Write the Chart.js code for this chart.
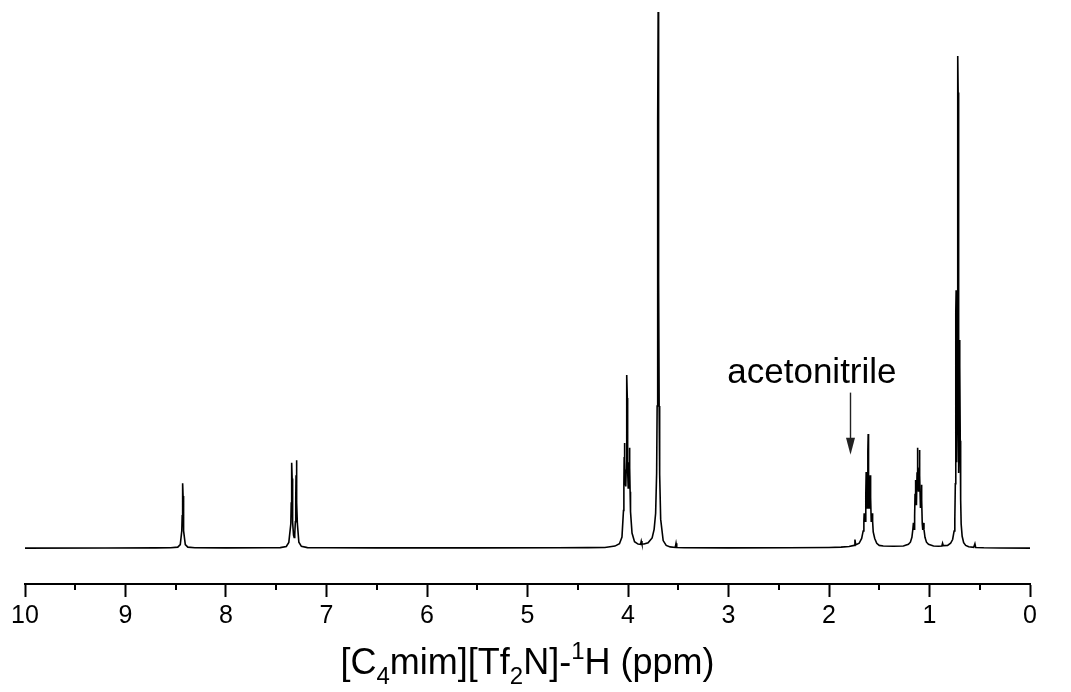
<!DOCTYPE html>
<html>
<head>
<meta charset="utf-8">
<script src="https://cdn.jsdelivr.net/npm/chart.js@4.4.1/dist/chart.umd.min.js"></script>
<style>
  html, body { margin: 0; padding: 0; background: #fff; }
</style>
</head>
<body>
<canvas id="nmr" width="1071" height="692"></canvas>
<script>
// chemical shift (ppm, as drawn on the axis), intensity (% of the tallest line)
const baseStart  = [[10, 0], [9.2, 0.02], [8.7, 0.03]];
const peakH2     = [[8.55,0.05],[8.48,0.17],[8.455,0.65],[8.44,3.2],[8.436,6.0],[8.433,9.7],[8.43,12.1],
                    [8.427,9.7],[8.424,6.0],[8.42,3.2],[8.405,0.65],[8.38,0.17],[8.31,0.05]];
const gap1       = [[8.0,0.03],[7.6,0.05]];
const peakH45    = [[7.46,0.08],[7.40,0.31],[7.375,1.05],[7.355,4.5],[7.351,8.4],[7.348,13.0],[7.345,15.9],
                    [7.342,13.0],[7.339,8.7],[7.335,4.8],[7.328,2.4],[7.322,2.0],[7.316,2.5],[7.31,4.9],
                    [7.306,9.0],[7.303,13.6],[7.30,16.4],[7.297,13.3],[7.294,8.5],[7.29,4.6],[7.275,1.08],
                    [7.25,0.32],[7.19,0.08]];
const gap2       = [[7.0,0.05],[6.5,0.03],[5.5,0.03],[4.7,0.05],[4.4,0.08]];
const peakNCH2   = [[4.23,0.12],[4.13,0.37],[4.085,0.82],[4.06,2.06],[4.045,7.0],[4.041,12.0],[4.038,17.0],
                    [4.035,19.6],[4.032,16.5],[4.027,12.0],[4.022,11.5],[4.018,14.5],[4.015,22],[4.013,28],
                    [4.01,32.3],[4.007,28],[4.005,22],[4.002,14.5],[3.998,11.2],[3.993,12.0],[3.988,16],
                    [3.985,18.7],[3.982,15],[3.979,10.5],[3.975,6.8],[3.96,2.8],[3.935,1.2],[3.90,0.75],
                    [3.875,0.7],[3.868,1.3],[3.861,0.75]];
const peakNCH3   = [[3.84,0.75],[3.80,1.0],[3.76,1.9],[3.74,3.5],[3.725,6.5],[3.715,14],[3.71,26.5],
                    [3.706,50],[3.703,80],[3.70,100],[3.697,80],[3.694,50],[3.69,26.5],[3.685,13.8],
                    [3.675,5.4],[3.65,1.4],[3.62,0.5],[3.58,0.22],[3.53,0.12],[3.522,0.9],[3.515,0.12],
                    [3.44,0.06]];
const gap3       = [[3.0,0.04],[2.4,0.06],[2.0,0.12]];
const peakCH2a   = [[1.88,0.18],[1.80,0.3],[1.75,0.5],[1.742,1.6],[1.734,0.6],[1.70,0.9],[1.675,1.8],
                    [1.66,3.2],[1.653,5.0],[1.65,6.5],[1.646,5.4],[1.64,5.0],[1.634,10],[1.63,14.2],
                    [1.626,10],[1.62,7.5],[1.615,12],[1.612,18],[1.61,21.3],[1.608,18],[1.605,12],
                    [1.60,7.5],[1.594,10],[1.59,13.6],[1.586,9.5],[1.58,5.0],[1.574,5.4],[1.57,6.5],
                    [1.566,5.0],[1.56,3.0],[1.545,1.8],[1.525,0.9],[1.50,0.5],[1.46,0.4],[1.36,0.35]];
const peakCH2b   = [[1.26,0.4],[1.21,0.7],[1.19,1.1],[1.175,2.0],[1.165,3.6],[1.16,4.7],[1.154,3.5],
                    [1.148,6],[1.144,10],[1.14,12.7],[1.136,10],[1.13,8],[1.124,14],[1.12,18.7],
                    [1.116,14],[1.11,10.5],[1.104,14],[1.10,18.3],[1.096,13.5],[1.09,7.5],[1.084,9.5],
                    [1.08,11.8],[1.076,9],[1.072,4.5],[1.067,3.4],[1.06,4.7],[1.055,3.5],[1.045,2.0],
                    [1.03,1.1],[1.01,0.7],[0.96,0.4]];
const gap4       = [[0.91,0.35],[0.877,0.4],[0.87,0.9],[0.863,0.45]];
const peakCH3    = [[0.82,0.5],[0.79,0.9],[0.77,1.6],[0.755,3.2],[0.748,5.5],[0.743,12],[0.740,30],
                    [0.737,44],[0.735,48.1],[0.733,44],[0.730,28],[0.727,16],[0.724,25],[0.721,60],
                    [0.719,85],[0.717,91.8],[0.715,85],[0.713,60],[0.710,25],[0.707,14],[0.704,22],
                    [0.701,34],[0.699,38.8],[0.697,34],[0.694,20],[0.690,9],[0.685,4.5],[0.675,2.2],
                    [0.66,1.0],[0.64,0.5],[0.61,0.25],[0.56,0.15],[0.548,0.8],[0.54,0.1],[0.46,0.05]];
const baseEnd    = [[0.3,0.02],[0,0]];

const xTitleParts = [['[C',''],['4','sub'],['mim][Tf',''],['2','sub'],['N]-',''],['1','sup'],['H (ppm)','']];
const noteText = 'acetonitrile';
const notePpm = 2.17, noteY = 30.8;        // label anchor
const arrowPpm = 1.79, arrowFrom = 29, arrowTo = 17.4;

const FONT = "'Liberation Sans', Arial, sans-serif";

const spectrum = [].concat(baseStart, peakH2, gap1, peakH45, gap2, peakNCH2, peakNCH3, gap3,
                           peakCH2a, peakCH2b, gap4, peakCH3, baseEnd)
                   .map(p => ({ x: p[0], y: p[1] }));

// short ticks at the half-ppm positions
const minorTicks = {
  id: 'minorTicks',
  afterDraw(chart) {
    const s = chart.scales.x, c = chart.ctx;
    c.save();
    c.strokeStyle = '#000';
    c.lineWidth = 2;
    for (let v = 0.5; v < 10; v += 1) {
      const x = Math.round(s.getPixelForValue(v));
      c.beginPath();
      c.moveTo(x, s.top);
      c.lineTo(x, s.top + 6);
      c.stroke();
    }
    c.restore();
  }
};

// axis title with sub/superscripts + the acetonitrile arrow
const labels = {
  id: 'labels',
  afterDraw(chart) {
    const c = chart.ctx, xs = chart.scales.x, ys = chart.scales.y;
    c.save();
    c.fillStyle = '#000';
    const big = 36, small = 24;
    let w = 0;
    xTitleParts.forEach(p => {
      c.font = (p[1] ? small : big) + 'px ' + FONT;
      w += c.measureText(p[0]).width;
    });
    let x = (chart.chartArea.left + chart.chartArea.right) / 2 - w / 2;
    const base = 674;
    c.textBaseline = 'alphabetic';
    xTitleParts.forEach(p => {
      c.font = (p[1] ? small : big) + 'px ' + FONT;
      let dy = 0;
      if (p[1] === 'sub') dy = 10;
      if (p[1] === 'sup') dy = -15;
      c.fillText(p[0], x, base + dy);
      x += c.measureText(p[0]).width;
    });

    c.font = '35px ' + FONT;
    c.textAlign = 'center';
    c.fillText(noteText, xs.getPixelForValue(notePpm), ys.getPixelForValue(noteY));

    const ax = Math.round(xs.getPixelForValue(arrowPpm)) + 0.5;
    const y0 = ys.getPixelForValue(arrowFrom), y1 = ys.getPixelForValue(arrowTo);
    c.strokeStyle = '#222';
    c.fillStyle = '#222';
    c.lineWidth = 1.4;
    c.beginPath();
    c.moveTo(ax, y0);
    c.lineTo(ax, y1 - 14);
    c.stroke();
    c.beginPath();
    c.moveTo(ax - 4.5, y1 - 17);
    c.lineTo(ax + 4.5, y1 - 17);
    c.lineTo(ax, y1);
    c.closePath();
    c.fill();
    c.restore();
  }
};

const ctx = document.getElementById('nmr');
const nmrChart = new Chart(ctx, {
  type: 'scatter',
  data: {
    datasets: [{
      data: spectrum,
      showLine: true,
      borderColor: '#000',
      borderWidth: 1.6,
      pointRadius: 0,
      tension: 0,
      fill: false
    }]
  },
  options: {
    responsive: false,
    animation: false,
    events: [],
    layout: { padding: { left: 25, right: 41, top: 12, bottom: 0 } },
    plugins: { legend: { display: false }, tooltip: { enabled: false } },
    scales: {
      x: {
        type: 'linear',
        reverse: true,
        min: 0,
        max: 10,
        ticks: {
          stepSize: 0.5,
          autoSkip: false,
          maxRotation: 0,
          color: '#000',
          padding: 4,
          font: { family: FONT, size: 25 },
          callback: v => Number.isInteger(v) ? v : ''
        },
        grid: {
          drawOnChartArea: false,
          tickLength: 13,
          tickWidth: 2,
          tickColor: c => (c.tick && Number.isInteger(c.tick.value)) ? '#000' : 'rgba(0,0,0,0)'
        },
        border: { color: '#000', width: 2 },
        afterFit: s => { s.height = 108; }
      },
      y: { display: false, min: -6.7, max: 100 }
    }
  },
  plugins: [minorTicks, labels]
});
</script>
</body>
</html>
